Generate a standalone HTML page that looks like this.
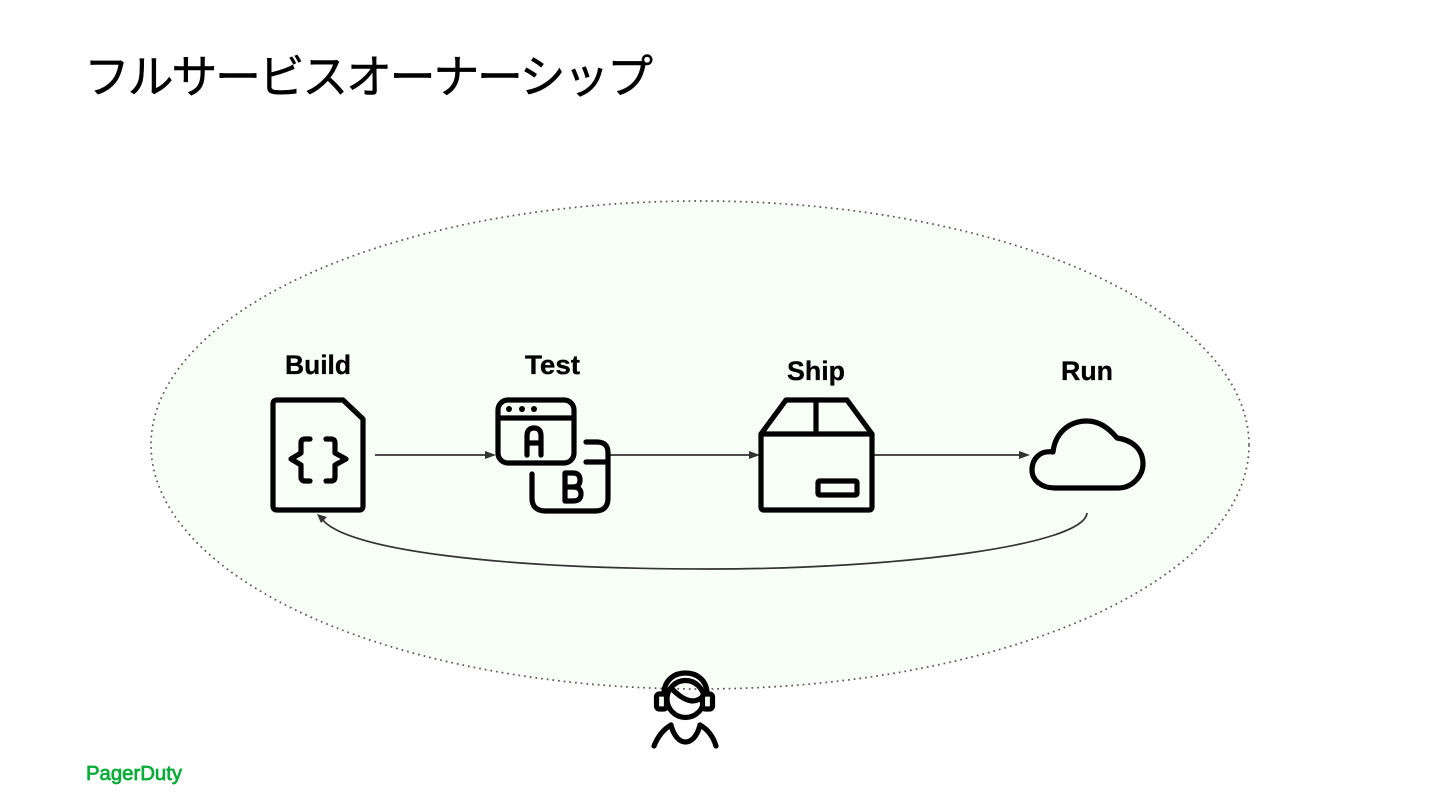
<!DOCTYPE html>
<html lang="ja"><head><meta charset="utf-8"><title>フルサービスオーナーシップ</title>
<style>html,body{margin:0;padding:0;background:#fff;width:1440px;height:810px;overflow:hidden}svg{display:block}</style>
</head><body>
<svg width="1440" height="810" viewBox="0 0 1440 810" xmlns="http://www.w3.org/2000/svg">
<rect width="1440" height="810" fill="#fff"/>
<text x="84" y="93" font-family="'Liberation Sans','Noto Sans CJK JP',sans-serif" font-size="46" fill="#000" stroke="#000" stroke-width=".5" textLength="569" lengthAdjust="spacing">フルサービスオーナーシップ</text>
<ellipse cx="700" cy="445" rx="549" ry="244" fill="#f7fff6" stroke="#555" stroke-width="1.7" stroke-dasharray="1.7 4"/>

<g font-family="'Liberation Sans',sans-serif" font-weight="700" font-size="27" fill="#000" stroke="#000" stroke-width=".3">
<text x="285" y="374" textLength="66" lengthAdjust="spacingAndGlyphs">Build</text>
<text x="525" y="374" textLength="55" lengthAdjust="spacingAndGlyphs">Test</text>
<text x="787" y="380" textLength="58" lengthAdjust="spacingAndGlyphs">Ship</text>
<text x="1061" y="380" textLength="52" lengthAdjust="spacingAndGlyphs">Run</text>
</g>

<g fill="none" stroke="#333" stroke-width="1.7">
<path d="M375 455H487"/><path d="M610 455H750"/><path d="M873 455H1021"/>
<path d="M1087 513C1084 545 900 569 710 569C500 569 345 550 322 519"/>
</g>
<g fill="#333">
<path d="M496 455l-11-4v8z"/><path d="M760 455l-11-4v8z"/><path d="M1030 455l-11-4v8z"/>
<path d="M317 514l10 3-6 6z"/>
</g>

<g fill="none" stroke="#000" stroke-width="5.2" stroke-linecap="round" stroke-linejoin="round">
<!-- Build -->
<path d="M277 400H343L363 419V506Q363 510 359 510H277Q273 510 273 506V404Q273 400 277 400Z"/>
<path d="M310 439H305Q301 439 301 443V453L291 459L301 465V477Q301 481 305 481H310"/>
<path d="M326 439H331Q335 439 335 443V453L346 459L335 465V477Q335 481 331 481H326"/>
<!-- Test -->
<rect x="498" y="400" width="76" height="63" rx="10"/>
<path d="M498 418H574"/>
<path d="M527 455V436Q527 428 534 428Q541 428 541 436V455M527 443H541"/>
<path d="M586 442H597Q608 442 608 453V498Q608 511 595 511H546Q532 511 532 498V474"/>
<path d="M586 462H608"/>
<path d="M565 473V501M565 473H573Q580 473 580 480Q580 487 573 487H565M573 487Q581 487 581 494Q581 501 573 501H565"/>
<!-- Ship -->
<path d="M761 434H872V507Q872 510 869 510H764Q761 510 761 507Z"/>
<path d="M761 434L786 400H847L872 434"/>
<path d="M816 400V434"/>
<rect x="818" y="481" width="39" height="14" rx="1.5"/>
<!-- Run -->
<path d="M1055 488H1118C1133 488 1143 475 1143 464C1143 449 1132 440 1117 438C1108 427 1098 421 1087 421C1068 421 1055 434 1053 452C1040 450 1032 459 1032 470C1032 480 1041 488 1055 488Z"/>
<!-- Person -->
<circle cx="685.500" cy="699" r="18.500"/>
<path d="M671 688C678 695 684 700 692 701C697 701 701 699 704 695"/>
<path d="M664 692C665 680 674 673 685.500 673C697 673 706 680 707 692"/>
<path d="M654 746C658 736 664 729 671 725"/>
<path d="M700 725C707 729 713 736 716 746"/>
<path d="M671 725C674 737 680 742 685.500 742C691 742 697 737 700 725"/>
</g>
<g fill="#f7fff6" stroke="#000" stroke-width="5.200" stroke-linejoin="round">
<rect x="656.500" y="694" width="10" height="15" rx="3"/>
<rect x="702.500" y="694" width="10" height="15" rx="3"/>
</g>
<g fill="#000">
<circle cx="509" cy="409" r="3"/><circle cx="522" cy="409" r="3"/><circle cx="534" cy="409" r="3"/>
</g>

<text x="86" y="780" font-family="'Liberation Sans',sans-serif" font-size="20" fill="#06ac38" stroke="#06ac38" stroke-width=".7" textLength="96" lengthAdjust="spacingAndGlyphs">PagerDuty</text>
</svg>
</body></html>
